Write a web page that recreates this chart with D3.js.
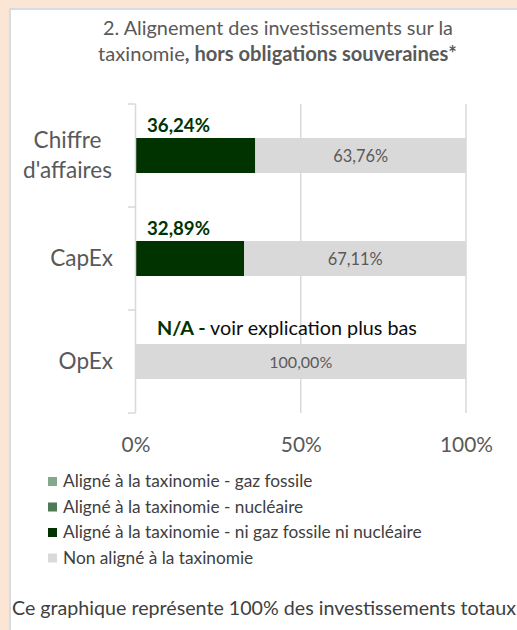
<!DOCTYPE html>
<html><head><meta charset="utf-8">
<script src="https://cdn.jsdelivr.net/npm/d3@7"></script>
<style>
html,body{margin:0;padding:0;background:#FBE6D6;}
svg{display:block;}
text{font-family:Lato,"Open Sans",sans-serif;}
</style></head>
<body>
<svg id="chart" width="517" height="630"></svg>
<script>
// ---- data ----
const categories = ["Chiffre d'affaires", "CapEx", "OpEx"];
const categoryLines = [["Chiffre", "d'affaires"], ["CapEx"], ["OpEx"]];
const seriesNames = [
  "Aligné à la taxinomie - gaz fossile",
  "Aligné à la taxinomie - nucléaire",
  "Aligné à la taxinomie - ni gaz fossile ni nucléaire",
  "Non aligné à la taxinomie"
];
const gazFossile = [0, 0, 0];
const nucleaire = [0, 0, 0];
const niGazNiNucleaire = [36.24, 32.89, 0];
const nonAligne = [63.76, 67.11, 100];
const seriesColors = ["#84A88A", "#4E7A55", "#013300", "#D9D9D9"];
const tickValues = [0, 50, 100];
const tickLabels = ["0%", "50%", "100%"];
const titleLine1 = "2. Alignement des investissements sur la";
const titleLine2a = "taxinomie";
const titleLine2b = ", hors obligations souveraines*";
const naBold = "N/A -";
const naRest = " voir explication plus bas";
const footer = "Ce graphique représente 100% des investissements totaux";

// ---- helpers ----
const svg = d3.select("#chart");
function fit(sel, target) {
  const n = sel.node();
  const fs = parseFloat(sel.attr("font-size"));
  const w = n.getComputedTextLength();
  sel.attr("font-size", (fs * target / w).toFixed(2));
  return +sel.attr("font-size");
}
const fr = d3.formatLocale({decimal: ",", thousands: " ", grouping: [3], currency: ["", "€"]});
const fmt = v => fr.format(".2f")(v) + "%";

// ---- panel ----
svg.append("rect").attr("x", 0).attr("y", 0).attr("width", 517).attr("height", 630).attr("fill", "#FBE6D6");
svg.append("rect").attr("x", 10).attr("y", 9).attr("width", 530).attr("height", 640)
  .attr("fill", "#FFFFFF").attr("stroke", "#D7DCE2").attr("stroke-width", 2);

// ---- title ----
const t1 = svg.append("text").attr("x", 278).attr("y", 35).attr("text-anchor", "middle")
  .attr("font-size", 17).attr("fill", "#595959").text(titleLine1);
fit(t1, 350);
const t2 = svg.append("text").attr("x", 277.5).attr("y", 61).attr("text-anchor", "middle")
  .attr("font-size", 17).attr("fill", "#595959");
t2.append("tspan").text(titleLine2a);
t2.append("tspan").attr("font-weight", "bold").text(titleLine2b);
fit(t2, 359);

// ---- scales ----
const x = d3.scaleLinear().domain([0, 100]).range([135.5, 466]);
const y = d3.scaleBand().domain(categories).range([104, 413]).paddingInner(0.66).paddingOuter(0.33);

// gridlines
svg.append("g").selectAll("line").data(tickValues.filter(v => v > 0)).join("line")
  .attr("x1", d => x(d)).attr("x2", d => x(d)).attr("y1", 104).attr("y2", 413)
  .attr("stroke", "#D9D9D9").attr("stroke-width", 1.5);

// ---- stacked bars ----
const rows = categories.map((c, i) => ({
  cat: c, s0: gazFossile[i], s1: nucleaire[i], s2: niGazNiNucleaire[i], s3: nonAligne[i]
}));
const stack = d3.stack().keys(["s0", "s1", "s2", "s3"]);
const stacked = stack(rows);
stacked.forEach((layer, li) => {
  svg.append("g").selectAll("rect").data(layer.filter(d => d[1] - d[0] > 0)).join("rect")
    .attr("x", d => x(d[0])).attr("width", d => x(d[1]) - x(d[0]))
    .attr("y", d => y(d.data.cat)).attr("height", y.bandwidth())
    .attr("fill", seriesColors[li]);
});

// y axis line with boundary ticks
const step = y.step();
const bounds = [104].concat(categories.map(c => y(c) + y.bandwidth() + step * y.paddingInner() / 2));
svg.append("line").attr("x1", 135.5).attr("x2", 135.5).attr("y1", 104).attr("y2", 413)
  .attr("stroke", "#D9D9D9").attr("stroke-width", 1.5);
svg.append("g").selectAll("line").data(bounds).join("line")
  .attr("x1", 128).attr("x2", 135.5).attr("y1", d => d).attr("y2", d => d)
  .attr("stroke", "#D9D9D9").attr("stroke-width", 1.5);

// ---- category labels ----
const catG = svg.append("g");
const probe = catG.append("text").attr("font-size", 20).text("d'affaires");
const catSize = fit(probe, 89);
probe.remove();
categories.forEach((c, i) => {
  const lines = categoryLines[i];
  const cy = y(c) + y.bandwidth() / 2;
  if (lines.length === 1) {
    catG.append("text").attr("x", 113).attr("y", cy + 7.5).attr("text-anchor", "end")
      .attr("font-size", catSize).attr("fill", "#595959").text(lines[0]);
  } else {
    lines.forEach((l, k) => {
      catG.append("text").attr("x", 67.5).attr("y", cy - 7.5 + k * 29.5).attr("text-anchor", "middle")
        .attr("font-size", catSize).attr("fill", "#595959").text(l);
    });
  }
});

// ---- value labels ----
rows.forEach((r, i) => {
  const top = y(r.cat);
  const cy = top + y.bandwidth() / 2;
  if (r.s2 > 0) {
    const lbl = svg.append("text").attr("x", 147).attr("y", top - 5.5)
      .attr("font-size", 16).attr("font-weight", "bold").attr("fill", "#013300").text(fmt(r.s2));
    fit(lbl, 63);
  } else {
    const na = svg.append("text").attr("x", 157).attr("y", top - 9)
      .attr("font-size", 18).attr("fill", "#0D0D0D");
    na.append("tspan").attr("font-weight", "bold").attr("fill", "#013300").text(naBold);
    na.append("tspan").text(naRest);
    fit(na, 260);
  }
  const start = r.s0 + r.s1 + r.s2;
  const lbl2 = svg.append("text").attr("x", (x(start) + x(start + r.s3)) / 2).attr("y", cy + 6)
    .attr("text-anchor", "middle").attr("font-size", 14).attr("fill", "#595959").text(fmt(r.s3));
  fit(lbl2, r.s3 >= 100 ? 63 : 55);
});

// ---- x axis ----
const xAxis = svg.append("g").attr("transform", "translate(0,413)")
  .call(d3.axisBottom(x).tickValues(tickValues).tickFormat((d, i) => tickLabels[i]).tickSize(0));
xAxis.select(".domain").remove();
xAxis.selectAll("text").attr("dy", null).attr("y", 39).attr("fill", "#595959")
  .attr("font-family", "Lato, 'Open Sans', sans-serif").attr("font-size", 20);
const probe2 = svg.append("text").attr("font-size", 20).text("100%");
const tickSize = fit(probe2, 53);
probe2.remove();
xAxis.selectAll("text").attr("font-size", tickSize);

// ---- legend ----
const legY = [487, 512.5, 538, 563.5];
const probe3 = svg.append("text").attr("font-size", 15).text(seriesNames[2]);
const legSize = fit(probe3, 359);
probe3.remove();
const leg = svg.append("g").selectAll("g").data(seriesNames).join("g")
  .attr("transform", (d, i) => `translate(0,${legY[i]})`);
leg.append("rect").attr("x", 48).attr("y", -10).attr("width", 9).attr("height", 9)
  .attr("fill", (d, i) => seriesColors[i]);
leg.append("text").attr("x", 63).attr("y", 0).attr("font-size", legSize).attr("fill", "#404040").text(d => d);

// ---- footer ----
const ft = svg.append("text").attr("x", 12).attr("y", 615).attr("font-size", 16)
  .attr("fill", "#404040").text(footer);
fit(ft, 504);
</script>
</body></html>
